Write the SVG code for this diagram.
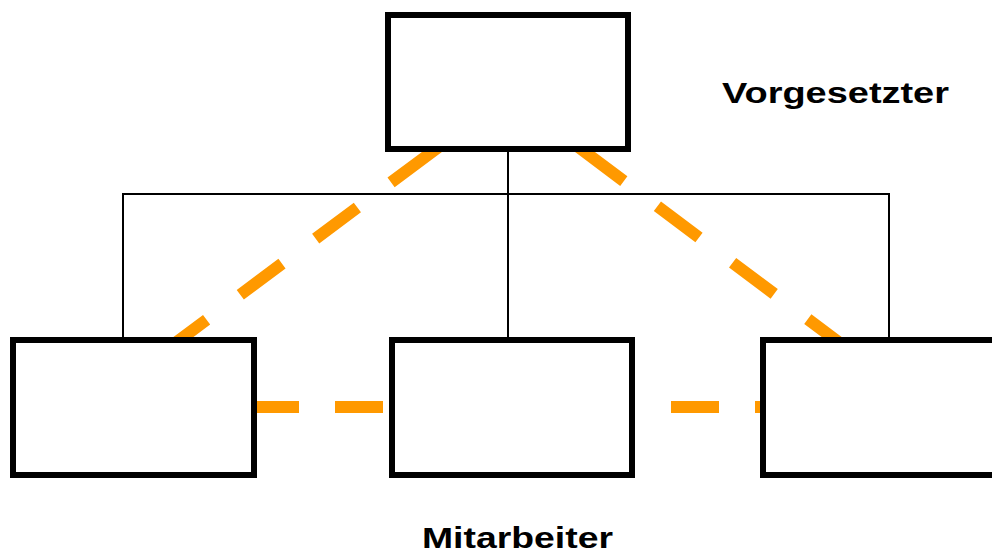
<svg xmlns="http://www.w3.org/2000/svg" width="992" height="553" viewBox="0 0 992 553">
<style>
.box{fill:#ffffff;stroke:#000000;stroke-width:6}
.tree{fill:none;stroke:#000000;stroke-width:2}
.rel{fill:none;stroke:#ff9900;stroke-width:12;stroke-linecap:butt}
.lbl{font-family:"Liberation Sans",Arial,sans-serif;font-weight:bold;font-size:30px;fill:#000000}
</style>
<rect width="992" height="553" fill="#ffffff"/>
<g id="connectors">
<path class="tree" d="M508 152 V340 M123 340 V194 H889 V340"/>
<path class="rel" d="M440 146 L159.3 355" stroke-dasharray="61 42 52 42 52 42 52 42"/>
<path class="rel" d="M575 144.5 L855 354.5" stroke-dasharray="61 42 52 42 52 42 52 42"/>
<path class="rel" d="M200 407 H800" stroke-dasharray="48 36" stroke-dashoffset="33"/>
</g>
<g id="vorgesetzter-box"><rect class="box" x="388" y="15" width="240" height="134"/></g>
<g id="mitarbeiter-1"><rect class="box" x="13" y="340" width="241" height="135"/></g>
<g id="mitarbeiter-2"><rect class="box" x="392" y="340" width="240" height="135"/></g>
<g id="mitarbeiter-3"><rect class="box" x="763" y="340" width="240" height="135"/></g>
<g id="labels">
<text class="lbl" x="722" y="103" textLength="227" lengthAdjust="spacingAndGlyphs">Vorgesetzter</text>
<text class="lbl" x="422" y="547.5" textLength="191" lengthAdjust="spacingAndGlyphs">Mitarbeiter</text>
</g>
</svg>
